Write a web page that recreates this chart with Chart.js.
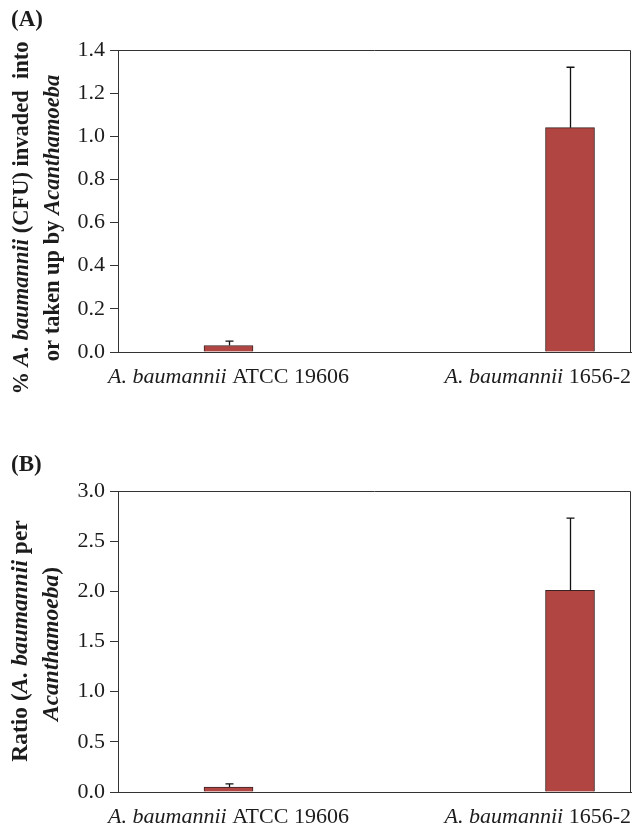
<!DOCTYPE html>
<html>
<head>
<meta charset="utf-8">
<script src="https://cdn.jsdelivr.net/npm/chart.js@4/dist/chart.umd.min.js"></script>
<style>
  html, body { margin: 0; padding: 0; background: #fff; }
  #wrap { position: relative; width: 634px; height: 827px; overflow: hidden; }
  canvas { position: absolute; left: 0; }
  #cA { top: 0; }
  #cB { top: 420px; }
</style>
</head>
<body>
<div id="wrap">
  <canvas id="cA" width="634" height="400"></canvas>
  <canvas id="cB" width="634" height="407"></canvas>
</div>
<script>
// ---- data ----
const categoryItalic = ['A. baumannii', 'A. baumannii'];
const categoryPlain = [' ATCC 19606', ' 1656-2'];
const categoryPos = [1, 2];

const invasionPercent = [0.03, 1.04];
const invasionError = [0.02, 0.28];
const invasionTicks = [0, 0.2, 0.4, 0.6, 0.8, 1.0, 1.2, 1.4];

const ratioValues = [0.05, 2.01];
const ratioError = [0.03, 0.72];
const ratioTicks = [0, 0.5, 1.0, 1.5, 2.0, 2.5, 3.0];

const titleA = [
  [['% ', false], ['A. baumannii', true], [' (CFU) invaded  into', false]],
  [['or taken up by ', false], ['Acanthamoeba', true]]
];
const titleB = [
  [['Ratio (', false], ['A. baumannii', true], [' per', false]],
  [['Acanthamoeba', true], [')', false]]
];

// ---- style ----
const SERIF = '"Liberation Serif", "Times New Roman", serif';
const TEXT = '#1c1c1c';
const LINE = '#333333';
const BAR = '#b04541';
const BAR_EDGE = '#3a2322';

function mixedWidth(ctx, parts, size) {
  let w = 0;
  for (const [t, it] of parts) {
    ctx.font = (it ? 'italic bold ' : 'bold ') + size + 'px ' + SERIF;
    w += ctx.measureText(t).width;
  }
  return w;
}

function makeChart(canvasId, values, errors, ticks, yMax, panelLabel, title, cfg) {
  const framePlugin = {
    id: 'extras',
    afterDatasetsDraw(chart) {
      const ctx = chart.ctx;
      const ca = chart.chartArea;
      const ys = chart.scales.y;
      const meta = chart.getDatasetMeta(0);
      ctx.save();
      // frame top and right
      ctx.strokeStyle = LINE;
      ctx.lineWidth = 1;
      ctx.beginPath();
      ctx.moveTo(Math.round(ca.left) + 0.5, Math.round(ca.top) + 0.5);
      ctx.lineTo(Math.round(ca.right) - 0.5, Math.round(ca.top) + 0.5);
      ctx.lineTo(Math.round(ca.right) - 0.5, Math.round(ca.bottom));
      ctx.stroke();
      // error bars (upper only)
      ctx.strokeStyle = '#111';
      ctx.lineWidth = 1.3;
      meta.data.forEach((bar, i) => {
        const x = Math.round(bar.x) + 0.5;
        const yTop = ys.getPixelForValue(values[i] + errors[i]);
        ctx.beginPath();
        ctx.moveTo(x, bar.y);
        ctx.lineTo(x, yTop);
        ctx.moveTo(x - 4, yTop);
        ctx.lineTo(x + 4, yTop);
        ctx.stroke();
      });
      ctx.restore();
    },
    afterDraw(chart) {
      const ctx = chart.ctx;
      const xs = chart.scales.x;
      const ca = chart.chartArea;
      const fs = cfg.labelSize;
      ctx.save();
      ctx.fillStyle = TEXT;
      // x category labels (italic genus + plain strain)
      ctx.textBaseline = 'alphabetic';
      categoryPos.forEach((p, i) => {
        ctx.font = 'italic ' + fs + 'px ' + SERIF;
        const w1 = ctx.measureText(categoryItalic[i]).width;
        ctx.font = fs + 'px ' + SERIF;
        const w2 = ctx.measureText(categoryPlain[i]).width;
        let left = xs.getPixelForValue(p) - (w1 + w2) / 2;
        if (left + w1 + w2 > chart.width - 3) left = chart.width - 3 - w1 - w2;
        ctx.textAlign = 'left';
        ctx.font = 'italic ' + fs + 'px ' + SERIF;
        ctx.fillText(categoryItalic[i], left, ca.bottom + cfg.xLabelOffset);
        ctx.font = fs + 'px ' + SERIF;
        ctx.fillText(categoryPlain[i], left + w1, ca.bottom + cfg.xLabelOffset);
      });
      // panel label
      ctx.font = 'bold 23px ' + SERIF;
      ctx.textAlign = 'left';
      ctx.fillText(panelLabel, 11, cfg.panelY);
      // y title (rotated, mixed fonts)
      title.forEach((parts, li) => {
        const w = mixedWidth(ctx, parts, cfg.titleSize);
        ctx.save();
        ctx.translate(cfg.titleX[li], cfg.titleCY[li]);
        ctx.rotate(-Math.PI / 2);
        ctx.textBaseline = 'middle';
        ctx.textAlign = 'left';
        let x = -w / 2;
        for (const [t, it] of parts) {
          ctx.font = (it ? 'italic bold ' : 'bold ') + cfg.titleSize + 'px ' + SERIF;
          ctx.fillText(t, x, 0);
          x += ctx.measureText(t).width;
        }
        ctx.restore();
      });
      ctx.restore();
    }
  };

  return new Chart(document.getElementById(canvasId), {
    type: 'bar',
    data: {
      datasets: [{
        data: categoryPos.map((p, i) => ({ x: p, y: values[i] })),
        backgroundColor: BAR,
        borderColor: BAR_EDGE,
        borderWidth: 1,
        borderSkipped: 'bottom',
        barThickness: 49
      }]
    },
    options: {
      responsive: false,
      animation: false,
      events: [],
      layout: { padding: { top: cfg.top, left: 0, right: 3, bottom: 0 } },
      plugins: { legend: { display: false }, tooltip: { enabled: false }, title: { display: false } },
      scales: {
        x: {
          type: 'linear',
          offset: false,
          min: cfg.xMin,
          max: cfg.xMax,
          grid: { display: false },
          border: { display: true, color: LINE, width: 1 },
          ticks: { display: false },
          afterFit(s) { s.height = cfg.xHeight; }
        },
        y: {
          min: 0,
          max: yMax,
          afterFit(s) { s.width = 118; },
          afterBuildTicks(s) { s.ticks = ticks.map(v => ({ value: v })); },
          grid: { display: true, drawOnChartArea: false, drawTicks: true, tickLength: 8, color: LINE, lineWidth: 1 },
          border: { display: true, color: LINE, width: 1 },
          ticks: {
            color: TEXT,
            padding: 5,
            font: { family: SERIF, size: 22 },
            callback: v => Number(v).toFixed(1)
          }
        }
      }
    },
    plugins: [framePlugin]
  });
}

makeChart('cA', invasionPercent, invasionError, invasionTicks, 1.4, '(A)', titleA, {
  top: 50, xHeight: 48, xMin: 0.6764, xMax: 2.1786, xLabelOffset: 31, labelSize: 22,
  panelY: 26, titleX: [22, 53], titleCY: [218, 218], titleSize: 22.5
});
makeChart('cB', ratioValues, ratioError, ratioTicks, 3.0, '(B)', titleB, {
  top: 71, xHeight: 35, xMin: 0.6764, xMax: 2.1786, xLabelOffset: 31, labelSize: 22,
  panelY: 51, titleX: [21, 52], titleCY: [221, 224], titleSize: 23.5
});
</script>
</body>
</html>
